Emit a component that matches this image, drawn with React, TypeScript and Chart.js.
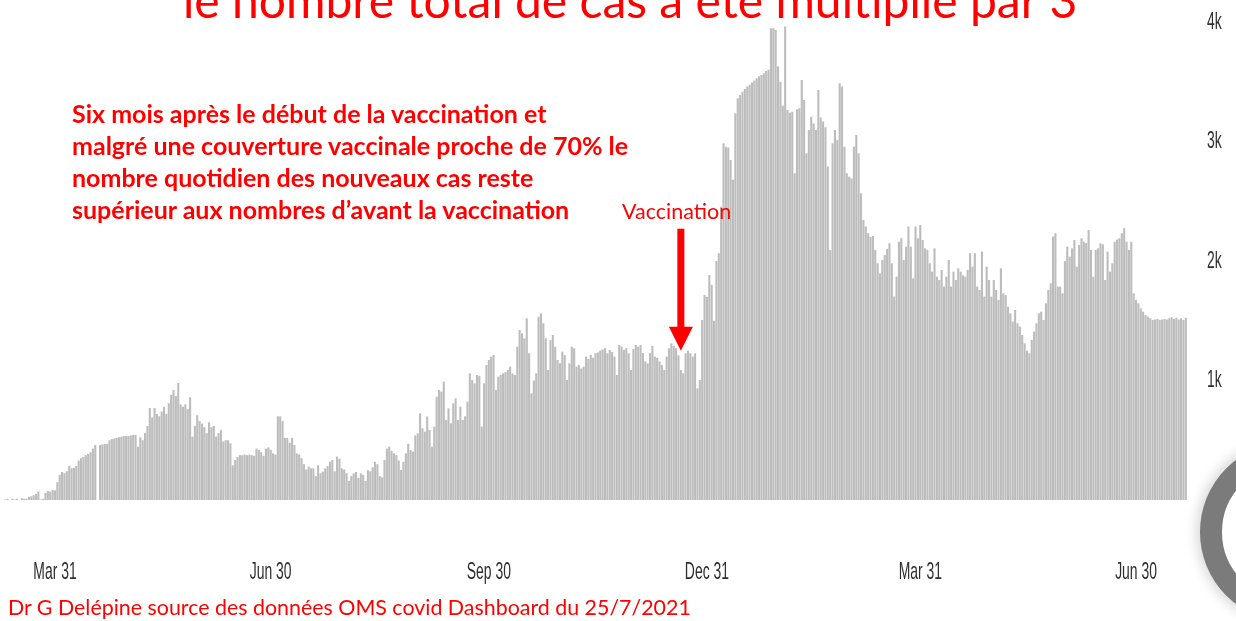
import React, { useEffect, useRef } from 'react';
import { Chart, registerables } from 'chart.js';

Chart.register(...registerables);

// ---------- DATA (daily new cases) ----------
const START_DATE = '2020-03-10';

const mar2020 = [5, 10, 0, 10, 5, 10, 0, 15, 10, 10, 25, 30, 40, 50, 70, 5, 10, 60, 75, 70, 85, 80];
const apr2020 = [150, 210, 235, 225, 240, 285, 265, 270, 285, 330, 350, 360, 375, 385, 400, 430, 460, 0, 460, 465, 470, 470, 500, 510, 515, 520, 525, 530, 535, 535];
const may2020 = [535, 540, 545, 545, 445, 525, 500, 560, 620, 770, 690, 770, 720, 700, 740, 780, 720, 810, 880, 920, 870, 980, 800, 780, 800, 760, 860, 530, 620, 710, 660];
const jun2020 = [640, 610, 560, 650, 610, 620, 530, 560, 585, 490, 500, 500, 475, 290, 335, 360, 375, 375, 380, 375, 380, 375, 370, 430, 420, 400, 370, 430, 440, 420];
const jul2020 = [390, 380, 700, 700, 660, 520, 520, 480, 520, 460, 390, 380, 350, 300, 255, 279, 265, 265, 200, 290, 225, 237, 265, 285, 321, 335, 240, 363, 345, 265, 255];
const aug2020 = [225, 160, 200, 223, 235, 185, 223, 210, 160, 250, 240, 275, 320, 300, 200, 190, 335, 430, 446, 410, 390, 375, 330, 251, 320, 390, 470, 418, 405, 540, 558];
const sep2020 = [725, 600, 572, 698, 586, 446, 614, 865, 920, 907, 990, 670, 767, 642, 809, 850, 670, 781, 670, 700, 823, 1060, 1004, 976, 1046, 1040, 614, 976, 1130, 1172];
const oct2020 = [1200, 1213, 920, 1032, 1046, 1060, 1070, 1088, 1116, 1060, 1046, 1283, 1423, 1395, 1353, 1520, 1228, 893, 1000, 1060, 1534, 1562, 1479, 1353, 1088, 1339, 1381, 1283, 1172, 1144, 1241];
const nov2020 = [1213, 1004, 1144, 1283, 1269, 1116, 1130, 1100, 1116, 1200, 1180, 1214, 1190, 1228, 1235, 1250, 1260, 1270, 1228, 1255, 1240, 1200, 1046, 1297, 1283, 1255, 1270, 1228, 1088, 1265];
const dec2020 = [1297, 1283, 1297, 1230, 1160, 1144, 1228, 1290, 1200, 1190, 1160, 1130, 1088, 1200, 1270, 1311, 1290, 1270, 1210, 1088, 1060, 1228, 1250, 1228, 1200, 1228, 935, 1004, 1507, 1716, 1700];
const jan2021 = [1883, 1800, 1500, 2000, 2065, 2455, 2985, 2957, 2950, 2846, 2679, 3236, 3362, 3390, 3417, 3440, 3460, 3475, 3493, 3510, 3530, 3545, 3557, 3571, 3590, 3600, 3948, 3948, 3934, 3627, 3500];
const feb2021 = [3300, 3962, 3264, 3240, 3250, 2734, 3270, 3278, 3515, 3348, 2902, 3097, 3208, 3150, 3097, 3430, 3200, 3167, 3120, 2790, 2093, 2985, 3097, 3013, 3488, 3460, 2957, 2734];
const mar2021 = [2706, 2690, 2957, 3055, 2902, 2567, 2344, 2288, 2232, 2200, 2210, 2093, 1981, 1897, 2009, 2050, 2100, 2148, 1981, 1702, 1869, 2162, 2190, 2009, 2120, 2288, 2120, 1855, 2288, 2190, 2302];
const apr2021 = [2176, 2106, 2093, 1981, 1911, 2106, 1869, 1841, 1925, 1786, 1869, 2009, 1786, 1911, 1841, 1939, 1911, 1880, 1869, 1925, 2065, 1953, 2065, 1786, 1758, 2079, 1702, 1953, 1841, 1702];
const may2021 = [1841, 1758, 1674, 1939, 1730, 1716, 1618, 1562, 1493, 1590, 1479, 1451, 1381, 1311, 1250, 1228, 1339, 1409, 1479, 1562, 1576, 1507, 1646, 1758, 1813, 2204, 2232, 1786, 1786, 1730, 2000];
const jun2021 = [2120, 2037, 2106, 2176, 1953, 2134, 2190, 2162, 2150, 2260, 2093, 1869, 2093, 2106, 2148, 2140, 1841, 2079, 1911, 1981, 2162, 2180, 2190, 2232, 2274, 2162, 2093, 2162, 1730, 1674];
const jul2021 = [1646, 1604, 1576, 1548, 1535, 1520, 1507, 1510, 1515, 1507, 1510, 1515, 1510, 1520, 1530, 1515, 1525, 1510, 1520, 1507, 1525];

const dailyCases = [
  ...mar2020, ...apr2020, ...may2020, ...jun2020, ...jul2020, ...aug2020,
  ...sep2020, ...oct2020, ...nov2020, ...dec2020, ...jan2021, ...feb2021,
  ...mar2021, ...apr2021, ...may2021, ...jun2021, ...jul2021,
];

const tickDates = ['2020-03-31', '2020-06-30', '2020-09-30', '2020-12-31', '2021-03-31', '2021-06-30'];
const tickLabels = ['Mar 31', 'Jun 30', 'Sep 30', 'Dec 31', 'Mar 31', 'Jun 30'];

const yTickValues = [1000, 2000, 3000, 4000];
const yTickLabels = ['1k', '2k', '3k', '4k'];

const vaccinationDate = '2020-12-20';
const arrowTipValue = 1250;
const arrowTailValue = 2270;

const titleText = 'le nombre total de cas a été multiplié par 3';
const noteLines = [
  'Six mois après le début de la vaccination et',
  'malgré une couverture vaccinale proche de 70% le',
  'nombre quotidien des nouveaux cas reste',
  'supérieur aux nombres d’avant la vaccination',
];
const vaccinationLabel = 'Vaccination';
const footerText = 'Dr G Delépine source des données OMS covid Dashboard du 25/7/2021';

// ---------- helpers ----------
function buildDates(start: string, n: number): string[] {
  const out: string[] = [];
  const base = new Date(start + 'T00:00:00Z').getTime();
  for (let i = 0; i < n; i++) {
    out.push(new Date(base + i * 86400000).toISOString().slice(0, 10));
  }
  return out;
}

const categories = buildDates(START_DATE, dailyCases.length);

const AXIS_FONT = "'Liberation Sans', Arial, sans-serif";
const AXIS_SIZE = 24;
const AXIS_SQUEEZE = 0.58;
const TEXT_FONT = "Lato, 'Open Sans', sans-serif";

const arrowPlugin = {
  id: 'vaccinationArrow',
  afterDatasetsDraw(chart: any) {
    const xs = chart.scales.x;
    const ys = chart.scales.y;
    const idx = categories.indexOf(vaccinationDate);
    if (idx < 0) return;
    const x = xs.getPixelForValue(idx);
    const yTip = ys.getPixelForValue(arrowTipValue);
    const yTail = ys.getPixelForValue(arrowTailValue);
    const ctx = chart.ctx;
    const headLen = 24;
    const headHalf = 12;
    const shaftHalf = 3.5;
    ctx.save();
    ctx.fillStyle = '#ff0000';
    ctx.fillRect(x - shaftHalf, yTail, shaftHalf * 2, yTip - headLen - yTail + 1);
    ctx.beginPath();
    ctx.moveTo(x - headHalf, yTip - headLen);
    ctx.lineTo(x + headHalf, yTip - headLen);
    ctx.lineTo(x, yTip);
    ctx.closePath();
    ctx.fill();
    ctx.restore();
  },
};

// Axis labels placed with the chart's own scales, drawn in a tall, narrow face.
const axisLabelPlugin = {
  id: 'axisLabels',
  afterDraw(chart: any) {
    const { ctx, chartArea } = chart;
    const xs = chart.scales.x;
    const ys = chart.scales.y;
    ctx.save();
    ctx.fillStyle = '#2e2e2e';
    ctx.font = `${AXIS_SIZE}px ${AXIS_FONT}`;
    ctx.textBaseline = 'middle';
    tickDates.forEach((d, i) => {
      const idx = categories.indexOf(d);
      if (idx < 0) return;
      const x = xs.getPixelForValue(idx);
      ctx.save();
      ctx.translate(x, chartArea.bottom + 72);
      ctx.scale(AXIS_SQUEEZE, 1);
      ctx.textAlign = 'center';
      ctx.fillText(tickLabels[i], 0, 0);
      ctx.restore();
    });
    yTickValues.forEach((v, i) => {
      const y = ys.getPixelForValue(v);
      ctx.save();
      ctx.translate(chartArea.right + 20, y);
      ctx.scale(AXIS_SQUEEZE, 1);
      ctx.textAlign = 'left';
      ctx.fillText(yTickLabels[i], 0, 0);
      ctx.restore();
    });
    ctx.restore();
  },
};

export default function App() {
  const canvasRef = useRef<HTMLCanvasElement | null>(null);

  useEffect(() => {
    document.body.style.margin = '0';
    const canvas = canvasRef.current;
    if (!canvas) return;
    const chart = new Chart(canvas, {
      type: 'bar',
      data: {
        labels: categories,
        datasets: [
          {
            label: 'Nouveaux cas',
            data: dailyCases,
            backgroundColor: '#bcbcbc',
            borderWidth: 0,
            barPercentage: 0.88,
            categoryPercentage: 1,
          },
        ],
      },
      options: {
        animation: false,
        responsive: true,
        maintainAspectRatio: false,
        layout: { padding: { left: 4, top: 22, right: 0, bottom: 0 } },
        plugins: {
          legend: { display: false },
          tooltip: { enabled: false },
          title: { display: false },
        },
        scales: {
          x: {
            type: 'category',
            offset: true,
            grid: { display: false, drawTicks: false },
            border: { display: false },
            ticks: { display: false },
            afterFit: (scale: any) => {
              scale.height = 121;
              scale.paddingLeft = 0;
              scale.paddingRight = 0;
            },
          },
          y: {
            position: 'right',
            min: 0,
            max: 4000,
            grid: { display: false, drawTicks: false },
            border: { display: false },
            ticks: { display: false, stepSize: 1000 },
            afterFit: (scale: any) => {
              scale.width = 49;
              scale.paddingTop = 0;
              scale.paddingBottom = 0;
            },
          },
        },
      },
      plugins: [arrowPlugin, axisLabelPlugin],
    } as any);
    return () => chart.destroy();
  }, []);

  const red = '#ff0000';

  return (
    <div
      style={{
        position: 'fixed',
        left: 0,
        top: 0,
        width: 1236,
        height: 621,
        overflow: 'hidden',
        background: '#ffffff',
      }}
    >
      <canvas ref={canvasRef} />
      <div
        style={{
          position: 'absolute',
          left: 183,
          top: -24,
          fontFamily: TEXT_FONT,
          fontSize: 48,
          lineHeight: '48px',
          color: red,
          whiteSpace: 'nowrap',
        }}
      >
        {titleText}
      </div>
      <div
        style={{
          position: 'absolute',
          left: 72,
          top: 97,
          fontFamily: TEXT_FONT,
          fontWeight: 700,
          fontSize: 25,
          lineHeight: '32px',
          color: red,
          whiteSpace: 'nowrap',
        }}
      >
        {noteLines.map((l, i) => (
          <div key={i}>{l}</div>
        ))}
      </div>
      <div
        style={{
          position: 'absolute',
          left: 622,
          top: 197,
          fontFamily: TEXT_FONT,
          fontSize: 21.5,
          lineHeight: '28px',
          color: red,
          whiteSpace: 'nowrap',
        }}
      >
        {vaccinationLabel}
      </div>
      <div
        style={{
          position: 'absolute',
          left: 8,
          top: 593,
          fontFamily: TEXT_FONT,
          fontSize: 21.4,
          lineHeight: '28px',
          color: red,
          whiteSpace: 'nowrap',
        }}
      >
        {footerText}
      </div>
      <div
        style={{
          position: 'absolute',
          left: 1200,
          top: 442,
          width: 136,
          height: 136,
          borderRadius: '50%',
          border: '22px solid #7b7b7b',
          boxShadow: '0 0 12px 4px rgba(0,0,0,0.15)',
          background: '#ffffff',
        }}
      />
    </div>
  );
}
